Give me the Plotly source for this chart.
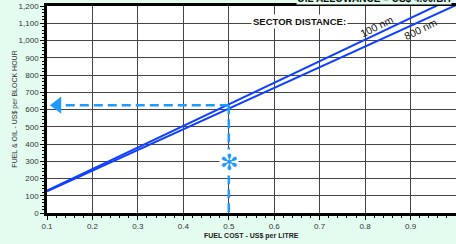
import plotly.graph_objects as go

# Data
fuel_cost = [0.1, 0.2, 0.3, 0.4, 0.5, 0.6, 0.7, 0.8, 0.9, 1.0]
cost_100nm = [130, 255, 380, 505, 630, 755, 880, 1005, 1130, 1255]
cost_800nm = [125, 245, 365, 485, 605, 725, 845, 965, 1085, 1205]

example_fuel = [0.5, 0.5]
example_cost_vert = [625, 0]
example_fuel_h = [0.5, 0.14]
example_cost_h = [625, 625]
arrow_x = [0.123]
arrow_y = [625]

x_ticks = [0.1, 0.2, 0.3, 0.4, 0.5, 0.6, 0.7, 0.8, 0.9, 1.0]
x_tick_text = ["0.1", "0.2", "0.3", "0.4", "0.5", "0.6", "0.7", "0.8", "0.9", "1"]
y_ticks = list(range(0, 1300, 100))

BG = "#e3fcef"
LINE = "#1040ff"
GUIDE = "#1e9bff"
FONT = "Liberation Sans, Arial, sans-serif"

fig = go.Figure()
fig.add_trace(go.Scatter(x=fuel_cost, y=cost_100nm, mode="lines",
                         line=dict(color=LINE, width=2), cliponaxis=True, showlegend=False))
fig.add_trace(go.Scatter(x=fuel_cost, y=cost_800nm, mode="lines",
                         line=dict(color=LINE, width=2), cliponaxis=True, showlegend=False))
fig.add_trace(go.Scatter(x=example_fuel, y=example_cost_vert, mode="lines",
                         line=dict(color=GUIDE, width=2.5, dash="9px,5px"), showlegend=False))
fig.add_trace(go.Scatter(x=example_fuel_h, y=example_cost_h, mode="lines",
                         line=dict(color=GUIDE, width=2.5, dash="9px,5px"), showlegend=False))
fig.add_trace(go.Scatter(x=arrow_x, y=arrow_y, mode="markers",
                         marker=dict(symbol="triangle-left", size=15, color=GUIDE,
                                     line=dict(width=0)),
                         cliponaxis=False, showlegend=False))

fig.update_layout(
    width=456, height=244,
    margin=dict(l=47, r=0, t=6, b=31),
    paper_bgcolor=BG, plot_bgcolor="white",
    font=dict(family=FONT, size=8, color="#333"),
    xaxis=dict(range=[0.1, 1.0], tickvals=x_ticks, ticktext=x_tick_text,
               showgrid=True, gridcolor="#444", gridwidth=1,
               showline=True, linecolor="black", linewidth=2.5, mirror=True,
               ticks="outside", ticklen=4, tickcolor="black", tickwidth=1,
               minor=dict(dtick=0.02, ticks="outside", ticklen=2, tickcolor="black", showgrid=False),
               zeroline=False, tickfont=dict(size=8, color="#333")),
    yaxis=dict(range=[0, 1200], tickvals=y_ticks, tickformat=",d",
               showgrid=True, gridcolor="#444", gridwidth=1,
               showline=True, linecolor="black", linewidth=2.5,
               ticks="outside", ticklen=4, tickcolor="black", tickwidth=1,
               minor=dict(dtick=20, ticks="outside", ticklen=2, tickcolor="black", showgrid=False),
               zeroline=False, tickfont=dict(size=8, color="#333")),
)

ann = []
# axis titles
ann.append(dict(text="FUEL & OIL - US$ per BLOCK HOUR", xref="paper", yref="paper",
                x=-0.095, y=0.5, textangle=-90, showarrow=False,
                font=dict(size=7, color="#333")))
ann.append(dict(text="<b>FUEL COST - US$ per LITRE</b>", xref="paper", yref="paper",
                x=0.501, y=-0.113, yanchor="middle", showarrow=False,
                font=dict(size=7, color="#222")))
# top title (cropped in the reference)
ann.append(dict(text="<b>OIL ALLOWANCE = US$ 4.00/BH</b>", xref="paper", yref="paper",
                x=0.99, y=1.0 + 1 / 207, xanchor="right", yanchor="bottom",
                showarrow=False, bgcolor=BG, borderpad=0, font=dict(size=10, color="#111")))
ann.append(dict(text="<b>SECTOR DISTANCE:</b>", xref="x", yref="y",
                x=0.656, y=1108, showarrow=False, bgcolor="white",
                font=dict(size=9.5, color="#111")))
ann.append(dict(text="100 nm", xref="x", yref="y", x=0.826, y=1085, textangle=-26,
                showarrow=False, font=dict(size=10.5, color="#111")))
ann.append(dict(text="800 nm", xref="x", yref="y", x=0.922, y=1065, textangle=-26,
                showarrow=False, font=dict(size=10.5, color="#111")))
ann.append(dict(text="✻", xref="x", yref="y", x=0.5, y=290, showarrow=False,
                bgcolor="white", borderpad=0,
                font=dict(size=22, color=GUIDE, family="DejaVu Sans")))
fig.update_layout(annotations=ann)

fig.write_html("out.html",
               config={"displayModeBar": False},
               post_script="document.body.style.margin='0';document.body.style.padding='0';"
                           "document.body.style.overflow='hidden';")
